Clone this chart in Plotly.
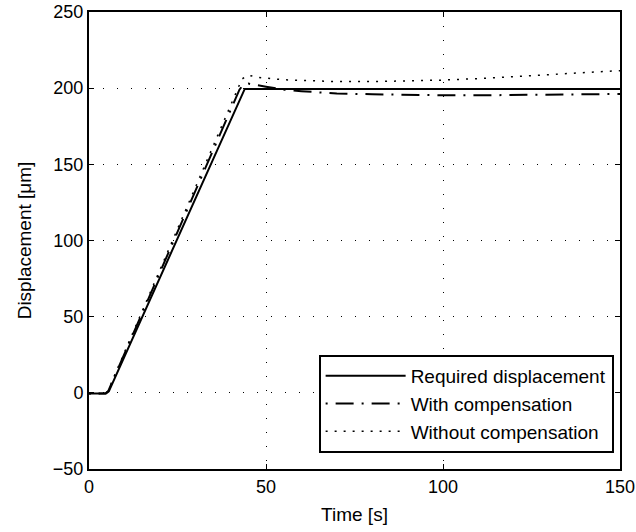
import plotly.graph_objects as go

# Data
t_req = [0, 4.8, 5.6, 44.0, 150]
y_req = [-0.5, -0.5, 1, 199.5, 199.5]

t_comp = [0, 4.6, 5.4, 42.5, 43.5, 45, 50, 55, 60, 70, 80, 90, 100, 110, 120, 130, 140, 150]
y_comp = [-0.5, -0.5, 1, 199, 202, 203, 201, 199, 198, 196.5, 196, 195.5, 195.3, 195.3, 195.5, 195.7, 196, 196.2]

t_wo = [0, 4.5, 5.3, 42, 43.2, 45, 48, 55, 60, 70, 80, 90, 100, 110, 120, 130, 140, 150]
y_wo = [-0.5, -0.5, 1, 200, 206, 208.5, 207, 205.5, 205, 204.3, 204.3, 204.6, 205.3, 206.3, 207.5, 208.7, 210, 211.5]

x_ticks = [0, 50, 100, 150]
y_ticks = [-50, 0, 50, 100, 150, 200, 250]

font = "Liberation Sans"

fig = go.Figure()
fig.add_trace(go.Scatter(x=t_req, y=y_req, mode="lines", name="Required displacement",
                         line=dict(color="black", width=2, dash="solid")))
fig.add_trace(go.Scatter(x=t_comp, y=y_comp, mode="lines", name="With compensation",
                         line=dict(color="black", width=2, dash="2px,8px,18px,8px")))
fig.add_trace(go.Scatter(x=t_wo, y=y_wo, mode="lines", name="Without compensation",
                         line=dict(color="black", width=1.5, dash="2px,7px")))

axis_common = dict(
    showline=True, linecolor="black", linewidth=2, mirror="ticks",
    ticks="inside", ticklen=5, tickcolor="black", tickwidth=1,
    showgrid=True, gridcolor="black", gridwidth=1, griddash="1px,13px",
    zeroline=False, automargin=False,
    tickfont=dict(family=font, size=18, color="black"),
)

fig.update_xaxes(range=[0, 150], tickvals=x_ticks,
                 title=dict(text="Time [s]", font=dict(family=font, size=19, color="black"), standoff=12),
                 **axis_common)
fig.update_yaxes(range=[-50, 250], tickvals=y_ticks,
                 ticktext=["\u221250" if v < 0 else str(v) for v in y_ticks],
                 title=dict(text="Displacement [\u03bcm]", font=dict(family=font, size=19, color="black"), standoff=16),
                 **axis_common)

fig.update_layout(
    width=636, height=532,
    margin=dict(l=89, r=16, t=12, b=63),
    paper_bgcolor="white", plot_bgcolor="white",
    font=dict(family=font, size=18, color="black"),
    legend=dict(x=0.988, y=0.035, xanchor="right", yanchor="bottom",
                bgcolor="white", bordercolor="black", borderwidth=2,
                font=dict(family=font, size=19, color="black"),
                itemwidth=80, tracegroupgap=0),
    showlegend=True,
)

fig.write_html("out.html")
